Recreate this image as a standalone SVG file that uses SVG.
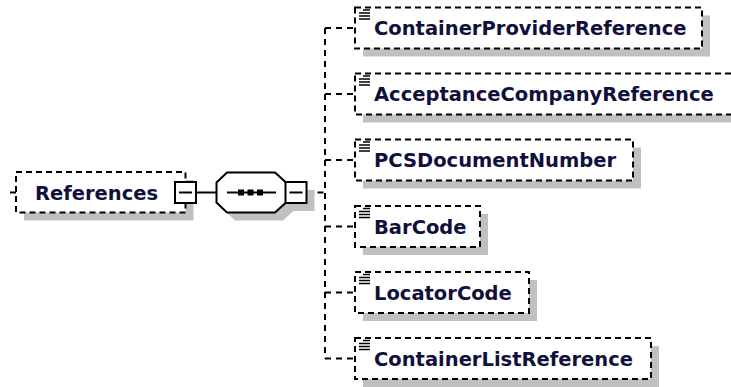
<svg xmlns="http://www.w3.org/2000/svg" width="731" height="387" viewBox="0 0 731 387">
<style>
.shadow{fill:#c0c0c0;stroke:none}
.box{fill:#fff;stroke:#000;stroke-width:2;stroke-dasharray:6 4}
.solid{fill:#fff;stroke:#000;stroke-width:2}
.line{fill:none;stroke:#000;stroke-width:2}
.dash{fill:none;stroke:#000;stroke-width:2;stroke-dasharray:6 5}
.icon{fill:none;stroke:#000;stroke-width:1.5}
.label{font-family:"DejaVu Sans",sans-serif;font-weight:bold;font-size:19.5px;fill:#10103c}
</style>
<defs>
<g id="ico">
<line class="icon" x1="8" y1="2.5" x2="15" y2="2.5"/>
<line class="icon" x1="4" y1="5.5" x2="15" y2="5.5"/>
<line class="icon" x1="4" y1="8.5" x2="15" y2="8.5"/>
<line class="icon" x1="4" y1="11.5" x2="15" y2="11.5"/>
</g>
</defs>
<rect width="731" height="387" fill="#fff"/>
<g id="connectors">
<line class="line" x1="196" y1="192.5" x2="216.5" y2="192.5"/>
<line class="dash" x1="306.5" y1="192.5" x2="325" y2="192.5"/>
<line class="dash" x1="325" y1="28" x2="325" y2="358.5"/>
<line class="dash" x1="325" y1="28" x2="355" y2="28"/>
<line class="dash" x1="325" y1="94" x2="355" y2="94"/>
<line class="dash" x1="325" y1="160" x2="355" y2="160"/>
<line class="dash" x1="325" y1="226.5" x2="355" y2="226.5"/>
<line class="dash" x1="325" y1="292.5" x2="355" y2="292.5"/>
<line class="dash" x1="325" y1="358.5" x2="355" y2="358.5"/>
</g>
<g id="references">
<rect class="shadow" x="24" y="180" width="169.5" height="40.5"/>
<line class="line" x1="10" y1="192.5" x2="16" y2="192.5"/>
<rect class="box" x="16" y="172" width="169.5" height="40.5"/>
<text class="label" x="35" y="200">References</text>
<rect class="solid" x="175" y="182" width="21" height="21"/>
<line class="line" x1="179" y1="192.5" x2="192" y2="192.5"/>
</g>
<g id="sequence">
<polygon class="shadow" points="235,180.5 283,180.5 294,190.5 294,210.5 283,220.5 235,220.5 224.5,210.5 224.5,190.5"/>
<polygon class="solid" points="227,172.5 275,172.5 286,182.5 286,202.5 275,212.5 227,212.5 216.5,202.5 216.5,182.5"/>
<line class="line" x1="227" y1="192.5" x2="276" y2="192.5"/>
<rect x="238" y="189.5" width="6" height="6" fill="#000"/>
<rect x="247.5" y="189.5" width="6" height="6" fill="#000"/>
<rect x="257" y="189.5" width="6" height="6" fill="#000"/>
<rect class="shadow" x="293.5" y="190" width="21" height="21"/>
<rect class="solid" x="285.5" y="182" width="21" height="21"/>
<line class="line" x1="289.5" y1="192.5" x2="302.5" y2="192.5"/>
</g>
<g id="ContainerProviderReference">
<rect class="shadow" x="363" y="15.5" width="347" height="41"/>
<rect class="box" x="355" y="7.5" width="347" height="41"/>
<use href="#ico" x="355" y="7.5"/>
<text class="label" x="374" y="35">ContainerProviderReference</text>
</g>
<g id="AcceptanceCompanyReference">
<rect class="shadow" x="363" y="81.5" width="378" height="41"/>
<rect class="box" x="355" y="73.5" width="378" height="41"/>
<use href="#ico" x="355" y="73.5"/>
<text class="label" x="374" y="101">AcceptanceCompanyReference</text>
</g>
<g id="PCSDocumentNumber">
<rect class="shadow" x="363" y="147.5" width="278" height="41"/>
<rect class="box" x="355" y="139.5" width="278" height="41"/>
<use href="#ico" x="355" y="139.5"/>
<text class="label" x="374" y="167">PCSDocumentNumber</text>
</g>
<g id="BarCode">
<rect class="shadow" x="363" y="214" width="125" height="41"/>
<rect class="box" x="355" y="206" width="125" height="41"/>
<use href="#ico" x="355" y="206"/>
<text class="label" x="374" y="233.5">BarCode</text>
</g>
<g id="LocatorCode">
<rect class="shadow" x="363" y="280" width="174" height="41"/>
<rect class="box" x="355" y="272" width="174" height="41"/>
<use href="#ico" x="355" y="272"/>
<text class="label" x="374" y="299.5">LocatorCode</text>
</g>
<g id="ContainerListReference">
<rect class="shadow" x="363" y="346" width="296" height="41"/>
<rect class="box" x="355" y="338" width="296" height="41"/>
<use href="#ico" x="355" y="338"/>
<text class="label" x="374" y="365.5">ContainerListReference</text>
</g>
</svg>
